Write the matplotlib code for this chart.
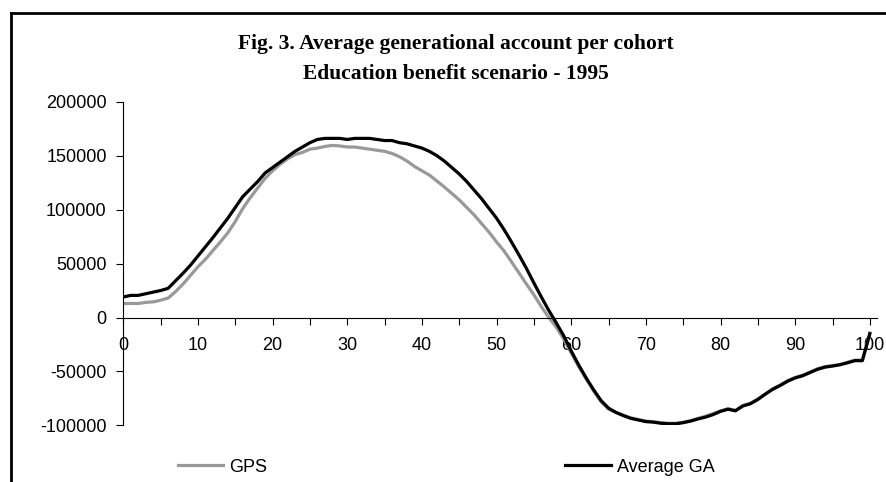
import matplotlib.pyplot as plt
from matplotlib.lines import Line2D
import numpy as np

ages = np.arange(0, 101)

gps = [13000, 13000, 13000, 14000, 14500, 16000, 18000, 24000, 31000, 39000,
       47000, 54000, 62000, 70000, 78500, 89000, 101000, 111000, 120000, 129000,
       136000, 142000, 147000, 151000, 153000, 156000, 157000, 158500, 159500, 159000,
       158000, 158000, 157000, 156000, 155000, 154000, 152000, 149000, 145000, 140000,
       136000, 132000, 126500, 121000, 115000, 109000, 102000, 95000, 87000, 79000,
       70000, 61700, 51600, 41400, 31000, 21000, 10000, 0, -9000, -20000,
       -33000, -45500, -57000, -68000, -78000, -85000, -88000, -90500, -93000, -94500,
       -96000, -96500, -97500, -98000, -98000, -97000, -95500, -93500, -91500, -89000,
       -86500, -84500, -86000, -81500, -79500, -75500, -71000, -66000, -62500, -58500,
       -55500, -53500, -50500, -47500, -45500, -44500, -43500, -41500, -39500, -39500,
       -14500]

average_ga = [19000, 20500, 20500, 22000, 23500, 25000, 27000, 34000, 41000, 48500,
              57000, 65500, 74000, 83000, 92000, 102000, 112000, 119000, 126000, 134000,
              139000, 144000, 149000, 154000, 158000, 162000, 165000, 166000, 166000, 166000,
              165000, 166000, 166000, 166000, 165000, 164000, 164000, 162000, 161000, 159000,
              157000, 154000, 150000, 145000, 139000, 133000, 126000, 118000, 110000, 101000,
              92000, 81500, 70000, 58000, 45500, 32000, 19000, 6500, -5000, -17000,
              -31000, -44000, -56000, -67000, -77000, -84000, -88000, -91000, -93500, -95000,
              -96500, -97000, -98000, -98500, -98500, -97500, -96000, -94000, -92300, -90000,
              -87000, -85000, -86500, -82000, -79900, -76000, -71000, -66500, -63000, -59000,
              -56000, -54000, -51000, -48000, -46000, -45000, -43800, -42000, -40000, -40000,
              -15000]

title_lines = ['Fig. 3. Average generational account per cohort',
               'Education benefit scenario - 1995']

sans = 'Liberation Sans'
serif = 'Liberation Serif'

fig = plt.figure(figsize=(8.87, 4.82), dpi=100)
W, H = 887, 482
ax = fig.add_axes([123.3 / W, 1 - 425.4 / H, 753.7 / W, (425.4 - 101.7) / H])

l1, = ax.plot(ages, gps, color='#999999', lw=2.3, label='GPS', solid_joinstyle='round')
l2, = ax.plot(ages, average_ga, color='black', lw=2.3, label='Average GA', solid_joinstyle='round')

ax.set_xlim(0, 100.96)
ax.set_ylim(-100000, 200000)
ax.spines['top'].set_visible(False)
ax.spines['right'].set_visible(False)
ax.spines['bottom'].set_position(('data', 0))
ax.spines['left'].set_linewidth(0.8)
ax.spines['bottom'].set_linewidth(0.8)

ax.set_yticks(np.arange(-100000, 200001, 50000))
ax.set_yticklabels([str(v) for v in range(-100000, 200001, 50000)],
                   fontfamily=sans, fontsize=13)
xt = np.arange(0, 101, 5)
ax.set_xticks(xt)
ax.set_xticklabels([str(v) if v % 10 == 0 else '' for v in xt],
                   fontfamily=sans, fontsize=13)
ax.tick_params(axis='x', direction='out', length=5, width=0.8, pad=9)
ax.tick_params(axis='y', direction='out', length=5, width=0.8, pad=7)

fig.text(456 / W, 1 - 44 / H, title_lines[0], ha='center', va='center',
         fontfamily=serif, fontweight='bold', fontsize=15.5)
fig.text(456 / W, 1 - 74 / H, title_lines[1], ha='center', va='center',
         fontfamily=serif, fontweight='bold', fontsize=15.5)

fig.legend(handles=[l1, l2], loc='center left', bbox_to_anchor=(178 / W, 1 - 467 / H),
           ncol=2, frameon=False, prop={'family': sans, 'size': 13},
           handlelength=2.5, handletextpad=0.35, columnspacing=16.5,
           borderpad=0, borderaxespad=0)

# chart-area border (only left and top visible in the crop)
fig.add_artist(Line2D([11.5 / W, 11.5 / W], [0, 1 - 13.3 / H], color='black', lw=2,
                      transform=fig.transFigure))
fig.add_artist(Line2D([11.5 / W, 1], [1 - 13.3 / H, 1 - 13.3 / H], color='black', lw=2,
                      transform=fig.transFigure))

fig.savefig('out.png', dpi=100)
